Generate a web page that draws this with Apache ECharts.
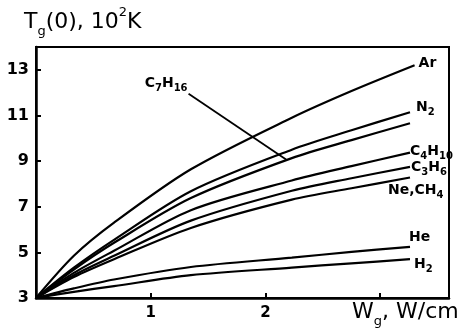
<!DOCTYPE html>
<html><head><meta charset="utf-8">
<script src="https://cdn.jsdelivr.net/npm/echarts@6/dist/echarts.min.js"></script>
<style>html,body{margin:0;padding:0;background:#fff}#c{width:458px;height:333px}</style>
</head><body><div id="c"></div>
<script>
// Data (x in W/cm, y in 10^2 K)
const xValues = [0, 0.33, 0.68, 1.35, 2.23, 2.75, 3.26];
const arX     = [0, 0.33, 0.68, 1.35, 2.23, 2.75, 3.30];
const ar     = [3, 4.85, 6.30, 8.64, 10.90, 12.07, 13.2];
const n2     = [3, 4.33, 5.55, 7.68, 9.50, 10.35, 11.14];
const c7h16  = [3, 4.25, 5.42, 7.38, 9.13, 9.92, 10.66];
const c4h10  = [3, 4.10, 5.07, 6.85, 8.15, 8.78, 9.37];
const c3h6   = [3, 4.00, 4.85, 6.39, 7.70, 8.25, 8.75];
const neCh4  = [3, 3.92, 4.70, 6.07, 7.31, 7.81, 8.28];
const he     = [3, 3.42, 3.81, 4.36, 4.77, 5.02, 5.24];
const h2     = [3, 3.27, 3.52, 4.00, 4.33, 4.52, 4.70];
const xTickLabels = ['1', '2'];
const yTickLabels = ['3', '5', '7', '9', '11', '13'];
const leaderFrom = [1.33, 11.95];
const leaderTo = [2.18, 9.07];

const FONT = 'DejaVu Sans';
const rich = {
  a: {fontFamily: FONT, fontSize: 14, fontWeight: 'bold', color: '#000', lineHeight: 20, verticalAlign: 'middle'},
  s: {fontFamily: FONT, fontSize: 10, fontWeight: 'bold', color: '#000', lineHeight: 10, verticalAlign: 'bottom'}
};
function pts(xs, ys) { return xs.map((x, i) => [x, ys[i]]); }
function mk(name, xs, ys, label, offset) {
  return {
    name: name, type: 'line', data: pts(xs, ys), smooth: 0.3, showSymbol: false, symbol: 'none',
    lineStyle: {color: '#000', width: 2.2}, animation: false, silent: true,
    endLabel: label ? {show: true, formatter: () => label, offset: offset, rich: rich, color: '#000'} : {show: false}
  };
}
const chart = echarts.init(document.getElementById('c'), null, {renderer: 'canvas'});
const series = [
  mk('Ar', arX, ar, '{a|Ar}', [-4, -2]),
  mk('N2', xValues, n2, '{a|N}{s|2}', [-2, -5]),
  mk('C7H16', xValues, c7h16, null),
  mk('C4H10', xValues, c4h10, '{a|C}{s|4}{a|H}{s|10}', [-8, -1]),
  mk('C3H6', xValues, c3h6, '{a|C}{s|3}{a|H}{s|6}', [-7, 1]),
  mk('Ne,CH4', xValues, neCh4, '{a|Ne,CH}{s|4}', [-30, 13]),
  mk('He', xValues, he, '{a|He}', [-9, -10]),
  mk('H2', xValues, h2, '{a|H}{s|2}', [-4, 5])
];
series[2].markLine = {
  silent: true, symbol: ['none', 'none'], animation: false,
  lineStyle: {color: '#000', width: 1.8, type: 'solid'},
  label: {show: false},
  data: [[{coord: leaderFrom}, {coord: leaderTo}]]
};
chart.setOption({
  backgroundColor: '#fff',
  animation: false,
  grid: {left: 36, right: 9, top: 47, bottom: 35, show: true, borderColor: '#000', borderWidth: 2},
  xAxis: {
    type: 'value', min: 0, max: 3.6, interval: 1,
    axisLine: {show: true, onZero: false, lineStyle: {color: '#000', width: 2.5}},
    axisTick: {show: true, inside: true, length: 5, lineStyle: {color: '#000', width: 2}},
    splitLine: {show: false},
    axisLabel: {show: true, margin: 8, fontFamily: FONT, fontSize: 15, fontWeight: 'bold', color: '#000',
      formatter: v => (xTickLabels.indexOf(String(v)) >= 0 ? String(v) : '')}
  },
  yAxis: {
    type: 'value', min: 3, max: 14, interval: 2,
    axisLine: {show: true, lineStyle: {color: '#000', width: 2.5}},
    axisTick: {show: true, inside: true, length: 5, lineStyle: {color: '#000', width: 2}},
    splitLine: {show: false},
    axisLabel: {show: true, margin: 7, fontFamily: FONT, fontSize: 16, fontWeight: 'bold', color: '#000',
      formatter: v => (yTickLabels.indexOf(String(v)) >= 0 ? String(v) : '')}
  },
  series: series
});
const p = chart.convertToPixel({gridIndex: 0}, leaderFrom);
const nameRich = {
  a: {fontFamily: FONT, fontSize: 22, color: '#000', lineHeight: 32, verticalAlign: 'middle'},
  s: {fontFamily: FONT, fontSize: 13, color: '#000', lineHeight: 13, verticalAlign: 'bottom'},
  p: {fontFamily: FONT, fontSize: 13, color: '#000', lineHeight: 13, verticalAlign: 'top'}
};
chart.setOption({
  graphic: [
    {type: 'text', left: 24, top: 6, style: {text: '{a|T}{s|g}{a|(0), 10}{p|2}{a|K}', rich: nameRich}},
    {type: 'text', left: 352, top: 301, style: {text: '{a|W}{s|g}{a|, W/cm}', rich: nameRich}},
    {type: 'text', x: p[0] - 1, y: p[1] - 10, style: {text: '{a|C}{s|7}{a|H}{s|16}', rich: rich, align: 'right', verticalAlign: 'middle'}}
  ]
});
</script></body></html>
